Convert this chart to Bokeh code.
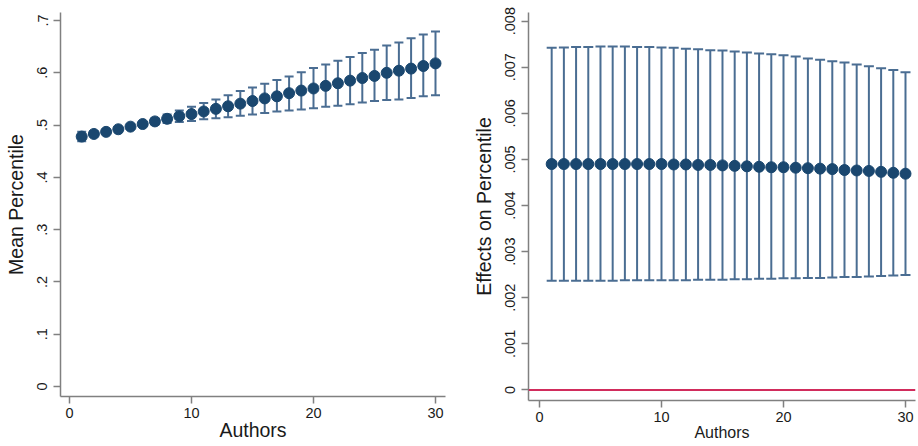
from bokeh.plotting import figure
from bokeh.layouts import row
from bokeh.models import ColumnDataSource, Whisker, TeeHead, Range1d, FixedTicker, Span
from bokeh.embed import file_html
from bokeh.resources import INLINE

# ---------------- data ----------------
authors = list(range(1, 31))

mean_pct = [0.478, 0.483, 0.487, 0.492, 0.497, 0.502, 0.507, 0.512, 0.517, 0.521,
            0.526, 0.531, 0.536, 0.541, 0.546, 0.551, 0.555, 0.561, 0.566, 0.570,
            0.575, 0.580, 0.585, 0.590, 0.594, 0.600, 0.604, 0.608, 0.613, 0.618]
mean_hi = [0.487, 0.488, 0.491, 0.495, 0.501, 0.506, 0.513, 0.520, 0.528, 0.535,
           0.542, 0.549, 0.557, 0.565, 0.572, 0.579, 0.586, 0.593, 0.601, 0.609,
           0.616, 0.623, 0.630, 0.638, 0.644, 0.652, 0.658, 0.666, 0.673, 0.679]
mean_lo = [0.469, 0.478, 0.485, 0.489, 0.494, 0.498, 0.501, 0.504, 0.506, 0.508,
           0.511, 0.513, 0.515, 0.518, 0.520, 0.523, 0.526, 0.528, 0.530, 0.532,
           0.535, 0.537, 0.540, 0.543, 0.546, 0.548, 0.549, 0.552, 0.555, 0.557]

effect = [0.00490, 0.00490, 0.00490, 0.00490, 0.00490, 0.00490, 0.00490, 0.00490, 0.00490, 0.00490,
          0.00489, 0.00489, 0.00488, 0.00488, 0.00487, 0.00486, 0.00485, 0.00484, 0.00483, 0.00483,
          0.00482, 0.00481, 0.00480, 0.00479, 0.00477, 0.00476, 0.00475, 0.00473, 0.00471, 0.00469]
eff_hi = [0.00742, 0.00743, 0.00744, 0.00744, 0.00745, 0.00745, 0.00745, 0.00744, 0.00744, 0.00743,
          0.00742, 0.00740, 0.00739, 0.00737, 0.00736, 0.00734, 0.00732, 0.00730, 0.00728, 0.00726,
          0.00723, 0.00719, 0.00716, 0.00713, 0.00710, 0.00706, 0.00702, 0.00698, 0.00694, 0.00689]
eff_lo = [0.00237, 0.00237, 0.00237, 0.00237, 0.00237, 0.00237, 0.00238, 0.00238, 0.00238, 0.00238,
          0.00238, 0.00238, 0.00239, 0.00239, 0.00239, 0.00240, 0.00240, 0.00241, 0.00241, 0.00242,
          0.00242, 0.00243, 0.00243, 0.00244, 0.00245, 0.00245, 0.00246, 0.00247, 0.00248, 0.00249]

x_ticks = [0, 10, 20, 30]
left_yticks = [0, 0.1, 0.2, 0.3, 0.4, 0.5, 0.6, 0.7]
left_ylabels = ["0", ".1", ".2", ".3", ".4", ".5", ".6", ".7"]
right_yticks = [0, 0.001, 0.002, 0.003, 0.004, 0.005, 0.006, 0.007, 0.008]
right_ylabels = ["0", ".001", ".002", ".003", ".004", ".005", ".006", ".007", ".008"]

# ---------------- style ----------------
FONT = "Liberation Sans"
DOT = "#1a476f"
BAR = "#4a6d92"
AXIS = "#808080"
TXT = "#1a1a1a"


def style(p, xlabel, ylabel, xlabel_size, xlabel_standoff):
    p.outline_line_color = None
    p.xgrid.grid_line_color = None
    p.ygrid.grid_line_color = None
    p.background_fill_color = "white"
    p.border_fill_color = "white"
    for ax in (p.xaxis[0], p.yaxis[0]):
        ax.axis_line_color = AXIS
        ax.axis_line_width = 1.5
        ax.major_tick_line_color = AXIS
        ax.major_tick_line_width = 1.5
        ax.major_tick_out = 7
        ax.major_tick_in = 0
        ax.minor_tick_line_color = None
        ax.major_label_text_font = FONT
        ax.major_label_text_font_size = "14.5px"
        ax.major_label_text_color = TXT
        ax.axis_label_text_font = FONT
        ax.axis_label_text_font_style = "normal"
        ax.axis_label_text_color = TXT
    p.xaxis[0].axis_label = xlabel
    p.xaxis[0].axis_label_text_font_size = xlabel_size
    p.xaxis[0].axis_label_standoff = xlabel_standoff
    p.xaxis[0].major_label_standoff = 4
    p.yaxis[0].axis_label = ylabel
    p.yaxis[0].axis_label_text_font_size = "19.5px"
    p.yaxis[0].axis_label_standoff = 8
    p.yaxis[0].major_label_standoff = 6
    p.yaxis[0].major_label_orientation = "vertical"
    p.xaxis[0].ticker = FixedTicker(ticks=x_ticks)


# ---------------- left panel ----------------
src_l = ColumnDataSource(dict(x=authors, y=mean_pct, lo=mean_lo, hi=mean_hi))
p1 = figure(frame_width=385, frame_height=384, output_backend="svg", toolbar_location=None,
            x_range=Range1d(-0.738, 30.82), y_range=Range1d(-0.0191, 0.7153),
            min_border_left=60, min_border_right=15, min_border_top=12, min_border_bottom=50)
style(p1, "Authors", "Mean Percentile", "19.5px", -2)
p1.yaxis[0].ticker = FixedTicker(ticks=left_yticks)
p1.yaxis[0].major_label_overrides = {t: l for t, l in zip(left_yticks, left_ylabels)}
w1 = Whisker(base="x", upper="hi", lower="lo", source=src_l, dimension="height",
             line_color=BAR, line_width=2,
             upper_head=TeeHead(size=9, line_color=BAR, line_width=2),
             lower_head=TeeHead(size=9, line_color=BAR, line_width=2))
p1.add_layout(w1)
p1.scatter("x", "y", source=src_l, size=11, fill_color=DOT, line_color=DOT)

# ---------------- right panel ----------------
src_r = ColumnDataSource(dict(x=authors, y=effect, lo=eff_lo, hi=eff_hi))
p2 = figure(frame_width=387, frame_height=388, output_backend="svg", toolbar_location=None,
            x_range=Range1d(-0.90, 30.82), y_range=Range1d(-0.00023, 0.008187),
            min_border_left=68, min_border_right=3, min_border_top=12, min_border_bottom=46)
style(p2, "Authors", "Effects on Percentile", "16px", -1)
p2.yaxis[0].ticker = FixedTicker(ticks=right_yticks)
p2.yaxis[0].major_label_overrides = {t: l for t, l in zip(right_yticks, right_ylabels)}
p2.add_layout(Span(location=0, dimension="width", line_color="#d12c5c", line_width=2))
w2 = Whisker(base="x", upper="hi", lower="lo", source=src_r, dimension="height",
             line_color=BAR, line_width=2,
             upper_head=TeeHead(size=10, line_color=BAR, line_width=2),
             lower_head=TeeHead(size=10, line_color=BAR, line_width=2))
p2.add_layout(w2)
p2.scatter("x", "y", source=src_r, size=11, fill_color=DOT, line_color=DOT)

layout = row(p1, p2)
open("out.html", "w").write(file_html(layout, INLINE))
